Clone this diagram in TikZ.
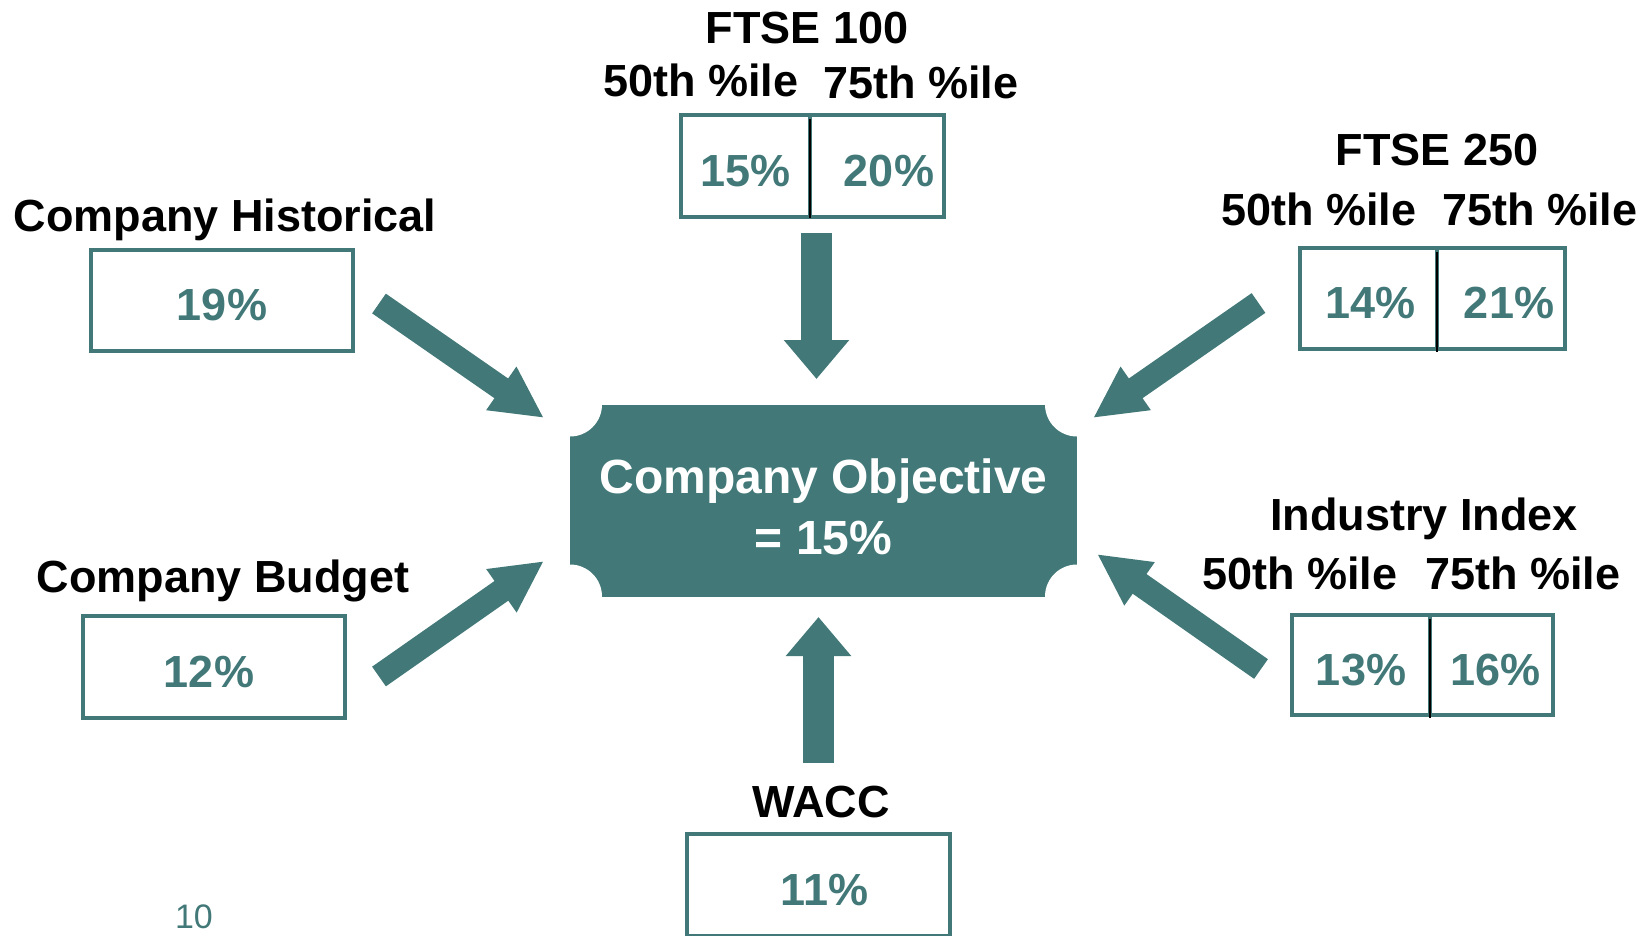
\documentclass[tikz,border=0pt]{standalone}
\usepackage{fontspec}
\setmainfont{Liberation Sans}
\usetikzlibrary{arrows.meta,positioning}
\definecolor{objteal}{RGB}{66,120,120}

\begin{document}
\begin{tikzpicture}[
  x=1pt, y=-1pt,
  title/.style={font=\fontsize{45}{54}\selectfont\bfseries, anchor=base, inner sep=0pt},
  valbox/.style={draw=objteal, line width=4pt, outer sep=0pt, inner sep=0pt, minimum height=102pt,
    text=objteal, font=\fontsize{45}{54}\selectfont\bfseries, text height=40pt, text depth=0pt},
  objbox/.style={fill=objteal, text=white, align=center, outer sep=0pt,
    minimum width=507pt, minimum height=192pt, font=\fontsize{48}{61}\selectfont\bfseries},
  notch/.style={fill=white},
  divider/.style={draw=black, line width=2pt},
  bigarw/.style={-{Triangle[width=49pt,length=52pt]}, line width=24pt, draw=objteal},
  vertarw/.style={-{Triangle[width=63pt,length=39pt]}, line width=31.5pt, draw=objteal}
  ]
\useasboundingbox (0,0) rectangle (1647,935);

% centre
\node [objbox] (obj) at (823.5,500.5) {\rule{0pt}{47pt}Company Objective\\= 15\%};
\foreach \c in {north west, north east, south west, south east}
  \fill [notch] (obj.\c) circle (32pt);

% left side
\node [title] (histlbl) at (225,231) {Company Historical};
\node [valbox, minimum width=262pt, minimum height=101pt] (hist) at (222,300.5) {19\%};
\node [title] (budglbl) at (223,592) {Company Budget};
\node [valbox, minimum width=262pt] (budg) at (214,667) {\hspace*{-10pt}12\%};

% FTSE 100
\node [title] (f100lbl) at (807,43) {FTSE 100};
\node [title] (f100a) at (701,96) {50th \%ile};
\node [title] (f100b) at (921,98) {75th \%ile};
\node [valbox, minimum width=129pt] (f100l) at (745.5,166) {15\%};
\node [valbox, minimum width=134pt, right=0pt of f100l] (f100r) {\hspace*{24pt}20\%};
\draw [divider] ([yshift=-4pt]f100l.north east) -- ([yshift=-1pt]f100l.south east);

% FTSE 250
\node [title] (f250lbl) at (1437,165) {FTSE 250};
\node [title] (f250a) at (1319,225) {50th \%ile};
\node [title] (f250b) at (1540,225) {75th \%ile};
\node [valbox, minimum width=137pt, minimum height=101pt] (f250l) at (1368.5,298.5) {\hspace*{4pt}14\%};
\node [valbox, minimum width=128pt, minimum height=101pt, right=0pt of f250l] (f250r) {\hspace*{16pt}21\%};
\draw [divider] ([yshift=-4pt]f250l.north east) -- ([yshift=-3pt]f250l.south east);

% industry
\node [title] (indlbl) at (1424,530) {Industry Index};
\node [title] (inda) at (1300,589) {50th \%ile};
\node [title] (indb) at (1523,589) {75th \%ile};
\node [valbox, minimum width=138pt, minimum height=100pt] (indl) at (1361,665) {13\%};
\node [valbox, minimum width=123pt, minimum height=100pt, right=0pt of indl] (indr) {\hspace*{8pt}16\%};
\draw [divider] ([yshift=-4pt]indl.north east) -- ([yshift=-3pt]indl.south east);

% WACC
\node [title] (wacclbl) at (821,817) {WACC};
\node [valbox, minimum width=263pt] (wacc) at (818.5,885) {\hspace*{12pt}11\%};

\node [font=\fontsize{34}{40}\selectfont, text=objteal, anchor=base, inner sep=0pt] (pgno) at (194,928) {10};

% arrows into the centre
\coordinate (histtail) at (379,303.5);
\coordinate (histtip) at (544,418);
\coordinate (budgtail) at (379,676.5);
\coordinate (budgtip) at (544,561);
\coordinate (f250tail) at (1258.5,303);
\coordinate (f250tip) at (1093,418);
\coordinate (indtail) at (1261,669);
\coordinate (indtip) at (1097,554);
\coordinate (f100tail) at (816.5,233);
\coordinate (f100tip) at (816.5,379);
\coordinate (wacctail) at (818.5,763);
\coordinate (wacctip) at (818.5,617);

\draw [bigarw] (histtail) -- (histtip);
\draw [bigarw] (budgtail) -- (budgtip);
\draw [bigarw] (f250tail) -- (f250tip);
\draw [bigarw] (indtail) -- (indtip);
\draw [vertarw] (f100tail) -- (f100tip);
\draw [vertarw] (wacctail) -- (wacctip);

\end{tikzpicture}
\end{document}
